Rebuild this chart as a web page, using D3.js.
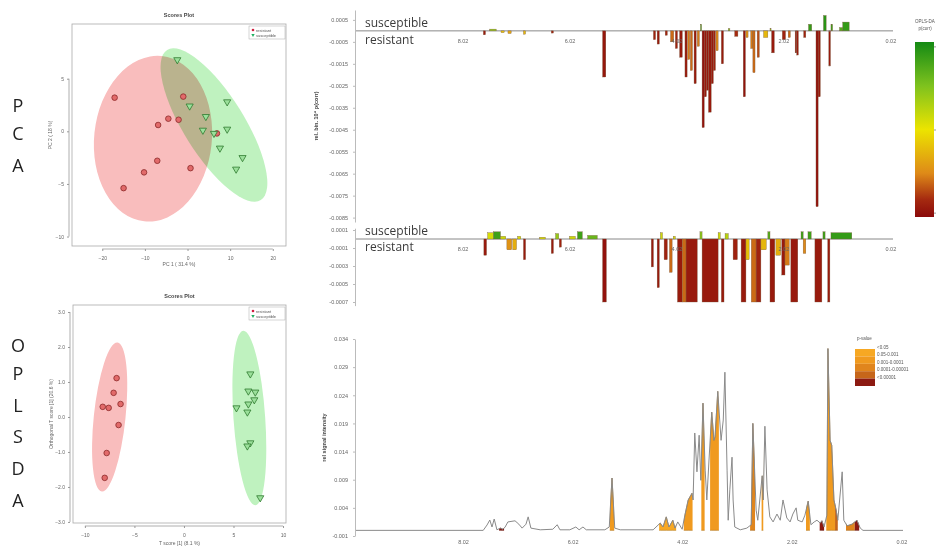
<!DOCTYPE html>
<html>
<head>
<meta charset="utf-8">
<script src="https://cdn.jsdelivr.net/npm/d3@7"></script>
<style>
  body { margin: 0; background: #fff; }
  text { font-family: "Liberation Sans", Arial, sans-serif; }
</style>
</head>
<body>
<div id="chart"></div>
<script>
// 1: DATA

// PCA scores
const pcaResX = [-17.1, -1.0, -4.5, -2.1, -6.9, 6.9, -7.1, -10.2, 0.7, -15.0];
const pcaResY = [3.2, 3.3, 1.2, 1.1, 0.6, -0.2, -2.8, -3.9, -3.5, -5.4];
const pcaSusX = [-2.4, 9.3, 0.5, 4.3, 3.6, 9.3, 6.2, 7.6, 12.9, 11.4];
const pcaSusY = [6.8, 2.8, 2.4, 1.4, 0.1, 0.2, -0.2, -1.6, -2.5, -3.6];
const pcaEllipses = [
    { cx: -8.1, cy: -0.7, rx: 13.8, ry: 7.9, angle: 6 },
    { cx: 6.2, cy: 0.6, rx: 7.1, ry: 8.4, angle: -32 }
];
const pcaXTicks = [-20, -10, 0, 10, 20];
const pcaYTicks = [5, 0, -5, -10];

// OPLS-DA scores
const oplsResX = [-6.8, -7.1, -8.2, -7.6, -6.4, -6.6, -7.8, -8.0];
const oplsResY = [1.11, 0.69, 0.29, 0.26, 0.37, -0.23, -1.03, -1.74];
const oplsSusX = [6.7, 6.5, 7.2, 7.1, 6.5, 5.3, 6.4, 6.7, 6.4, 7.7];
const oplsSusY = [1.23, 0.74, 0.71, 0.49, 0.37, 0.26, 0.14, -0.74, -0.83, -2.31];
const oplsEllipses = [
    { cx: -7.5, cy: 0, rx: 1.6, ry: 2.14, angle: 6 },
    { cx: 6.6, cy: -0.03, rx: 1.6, ry: 2.5, angle: -4 }
];
const oplsXTicks = [-10, -5, 0, 5, 10];
const oplsYTicks = [3, 2, 1, 0, -1, -2, -3];

// PCA loadings (bins: ppm from, ppm to, value, p(corr))
const topFrom = [7.64, 7.52, 7.31, 7.18, 6.89, 6.37, 5.41, 4.46, 4.39, 4.24, 4.14, 4.05, 3.97, 3.87, 3.82, 3.77, 3.70, 3.64, 3.58, 3.55, 3.51, 3.47, 3.43, 3.38, 3.34, 3.29, 3.19, 3.06, 2.94, 2.78, 2.73, 2.64, 2.60, 2.52, 2.40, 2.28, 2.25, 2.05, 1.94, 1.81, 1.78, 1.65, 1.56, 1.42, 1.38, 1.28, 1.18, 1.14, 0.98, 0.92];
const topTo   = [7.60, 7.40, 7.25, 7.12, 6.85, 6.33, 5.35, 4.42, 4.35, 4.20, 4.08, 4.01, 3.92, 3.83, 3.78, 3.73, 3.66, 3.60, 3.56, 3.51, 3.47, 3.43, 3.38, 3.34, 3.30, 3.25, 3.15, 3.03, 2.88, 2.74, 2.69, 2.60, 2.56, 2.48, 2.32, 2.26, 2.20, 1.99, 1.90, 1.78, 1.75, 1.61, 1.50, 1.38, 1.34, 1.23, 1.15, 1.11, 0.92, 0.80];
const topVal  = [-0.00018, 0.00008, -0.00008, -0.00012, -0.00015, -0.0001, -0.0021, -0.0004, -0.0006, -0.0002, -0.0005, -0.0008, -0.0012, -0.0021, -0.0013, -0.0018, -0.0024, -0.0007, 0.0003, -0.0044, -0.0030, -0.0027, -0.0037, -0.0024, -0.0018, -0.0009, -0.0015, 0.0001, -0.00025, -0.0030, -0.0003, -0.0008, -0.0019, -0.0012, -0.0003, 0.0001, -0.0010, -0.0004, -0.0003, -0.0010, -0.0011, -0.0003, 0.0003, -0.0080, -0.0030, 0.0007, -0.0016, 0.0003, 0.00015, 0.0004];
const topCorr = [-0.9, 0.4, -0.2, -0.35, -0.25, -0.85, -0.92, -0.85, -0.9, -0.85, -0.6, -0.85, -0.9, -0.9, -0.55, -0.6, -0.9, -0.55, 0.8, -0.95, -0.9, -0.9, -0.9, -0.9, -0.85, -0.5, -0.9, 0.5, -0.8, -0.95, -0.45, -0.55, -0.6, -0.7, -0.25, 0.4, -0.9, -0.85, -0.6, -0.9, -0.9, -0.85, 0.85, -0.95, -0.9, 0.9, -0.9, 0.8, 0.7, 0.85];
const topTicks = [0.0005, -0.0005, -0.0015, -0.0025, -0.0035, -0.0045, -0.0055, -0.0065, -0.0075, -0.0085];

// OPLS-DA loadings
const midFrom = [7.63, 7.56, 7.45, 7.32, 7.20, 7.09, 7.00, 6.89, 6.59, 6.37, 6.29, 6.22, 6.03, 5.88, 5.69, 5.41, 4.50, 4.39, 4.33, 4.26, 4.16, 4.09, 4.01, 3.92, 3.85, 3.59, 3.55, 3.25, 3.19, 3.12, 2.97, 2.82, 2.73, 2.63, 2.54, 2.45, 2.32, 2.28, 2.17, 2.06, 2.00, 1.89, 1.70, 1.66, 1.57, 1.44, 1.29, 1.20, 1.14];
const midTo   = [7.58, 7.45, 7.32, 7.22, 7.11, 7.02, 6.94, 6.85, 6.48, 6.33, 6.23, 6.18, 5.92, 5.79, 5.51, 5.34, 4.46, 4.35, 4.29, 4.20, 4.11, 4.05, 3.92, 3.85, 3.64, 3.55, 3.25, 3.21, 3.14, 3.06, 2.89, 2.73, 2.67, 2.54, 2.45, 2.35, 2.28, 2.19, 2.08, 2.00, 1.92, 1.76, 1.66, 1.61, 1.51, 1.31, 1.25, 1.16, 0.75];
const midVal  = [-0.00018, 0.00007, 0.00008, 0.00003, -0.00012, -0.00012, 0.00003, -0.00023, 0.00002, -0.00016, 0.00006, -0.00009, 0.00003, 0.00008, 0.00004, -0.0007, -0.00031, -0.00054, 0.00007, -0.00023, -0.00037, 0.00003, -0.0007, -0.0007, -0.0007, 0.00008, -0.0007, 0.00007, -0.0007, 0.00006, -0.00023, -0.0007, -0.00023, -0.0007, -0.0007, -0.00012, 0.00008, -0.0007, -0.00018, -0.0004, -0.00029, -0.0007, 0.00008, -0.00016, 0.00008, -0.0007, 0.00008, -0.0007, 0.00007];
const midCorr = [-0.9, 0.1, 0.8, 0.15, -0.45, -0.3, 0.1, -0.9, 0.1, -0.9, 0.4, -0.85, 0.15, 0.8, 0.6, -0.95, -0.9, -0.9, 0.15, -0.85, -0.6, 0.1, -0.9, -0.6, -0.9, 0.45, -0.9, 0.15, -0.9, 0.25, -0.85, -0.9, -0.2, -0.6, -0.85, -0.25, 0.7, -0.9, -0.3, -0.9, -0.55, -0.9, 0.8, -0.5, 0.8, -0.9, 0.8, -0.9, 0.85];
const midTicks = [0.0001, -0.0001, -0.0003, -0.0005, -0.0007];

// mean spectrum with p-value fills
const botPpm = [10.00, 7.66, 7.59, 7.54, 7.50, 7.46, 7.41, 7.35, 7.30, 7.26, 7.21, 7.08, 7.01, 6.95, 6.88, 6.84, 6.79, 6.62, 6.39, 6.31, 6.26, 6.08, 5.97, 5.91, 5.84, 5.78, 5.44, 5.36, 5.31, 5.26, 5.16, 4.56, 4.43, 4.38, 4.32, 4.27, 4.20, 4.16, 4.11, 4.03, 3.98, 3.92, 3.85, 3.83, 3.80, 3.76, 3.72, 3.69, 3.65, 3.61, 3.58, 3.54, 3.49, 3.45, 3.43, 3.38, 3.32, 3.28, 3.25, 3.21, 3.19, 3.16, 3.12, 3.10, 3.07, 2.97, 2.85, 2.77, 2.74, 2.68, 2.65, 2.57, 2.55, 2.52, 2.48, 2.43, 2.37, 2.30, 2.24, 2.19, 2.12, 2.06, 2.01, 1.95, 1.92, 1.84, 1.79, 1.73, 1.68, 1.62, 1.57, 1.51, 1.48, 1.44, 1.39, 1.37, 1.33, 1.30, 1.26, 1.22, 1.19, 1.11, 1.08, 1.02, 0.93, 0.84, 0.78, 0.73, 0.00];
const botInt = [0, 0, 0.00096, 0.00184, 0.0006, 0.00202, 0.0001, 0.0004, 0.0002, 0.0006, 0.0015, 0.0017, 0.0011, 0.0004, 0.0011, 0.0024, 0.0004, 0.0001, 0.0002, 0.001, 0.0001, 0.0001, 0.0006, 0.0001, 0.0006, 0.0001, 0.0001, 0.0006, 0.0093, 0.0004, 0.0001, 0.0001, 0.0013, 0.0006, 0.0024, 0.0006, 0.0018, 0.0004, 0.0015, 0.0002, 0.0027, 0.0054, 0.0066, 0.0054, 0.0173, 0.0104, 0.0169, 0.0089, 0.0226, 0.0107, 0.0054, 0.0125, 0.021, 0.016, 0.0166, 0.0247, 0.016, 0.0196, 0.0281, 0.0107, 0.0018, 0.0072, 0.013, 0.0054, 0.0006, 0.0001, 0.0004, 0.001, 0.019, 0.0036, 0.0018, 0.0097, 0.0054, 0.0185, 0.0072, 0.0024, 0.0015, 0.0029, 0.0018, 0.0054, 0.0022, 0.0015, 0.0029, 0.004, 0.0018, 0.0015, 0.0027, 0.0052, 0.001, 0.0015, 0.0018, 0.0013, 0.0017, 0.0006, 0.0027, 0.0323, 0.016, 0.0151, 0.0054, 0.0036, 0.0018, 0.0104, 0.0018, 0.0008, 0.0011, 0.0018, 0.0004, 0, 0];
const fillHi    = [7.37, 5.35, 4.45, 4.00, 3.68, 3.52, 2.79, 2.58, 1.77, 1.52, 1.40, 1.24, 1.04, 0.88];
const fillLo    = [7.28, 5.27, 4.14, 3.84, 3.62, 3.36, 2.70, 2.55, 1.70, 1.44, 1.24, 1.19, 0.88, 0.80];
const fillClass = [4, 1, 0, 1, 1, 1, 2, 1, 1, 4, 1, 3, 2, 4];
const botTicks = [0.034, 0.029, 0.024, 0.019, 0.014, 0.009, 0.004, -0.001];

const ppmTicks = [8.02, 6.02, 4.02, 2.02, 0.02];
const pLabels = ["<0.05", "0.05-0.001", "0.001-0.0001", "0.0001-0.00001", "<0.00001"];
const pColors = ["#f7a823", "#f09a1f", "#e0851d", "#c6661a", "#8c1a12"];

// 2: SVG
const svg = d3.select("#chart").append("svg")
    .attr("width", 940)
    .attr("height", 548);
svg.append("rect").attr("width", 940).attr("height", 548).attr("fill", "#fff");

const tickFont = 5.5;
const greyText = "#666";

// side letters
function sideLetters(letters, ys) {
    svg.selectAll(null).data(letters).join("text")
        .attr("x", 18)
        .attr("y", (d, i) => ys[i])
        .attr("text-anchor", "middle")
        .style("font-family", "'Open Sans', sans-serif")
        .style("font-size", "18px")
        .attr("fill", "#222")
        .text(d => d);
}
sideLetters(["P", "C", "A"], [112, 140, 172]);
sideLetters(["O", "P", "L", "S", "D", "A"], [352, 380, 412, 443, 475, 507]);

// 3: SCORES PLOTS
function scoresPlot(cfg) {
    const g = svg.append("g");
    const x = d3.scaleLinear().domain(cfg.xDomain).range([cfg.left, cfg.right]);
    const y = d3.scaleLinear().domain(cfg.yDomain).range([cfg.bottom, cfg.top]);

    const ell = g.append("g").style("isolation", "isolate");
    ell.selectAll("ellipse").data(cfg.ellipses).join("ellipse")
        .attr("cx", d => x(d.cx))
        .attr("cy", d => y(d.cy))
        .attr("rx", d => x(d.cx + d.rx) - x(d.cx))
        .attr("ry", d => y(d.cy) - y(d.cy + d.ry))
        .attr("transform", d => `rotate(${d.angle},${x(d.cx)},${y(d.cy)})`)
        .attr("fill", (d, i) => i === 0 ? "#f9bdbd" : "#bff2bf")
        .style("mix-blend-mode", "multiply");

    g.append("rect")
        .attr("x", cfg.left).attr("y", cfg.top)
        .attr("width", cfg.right - cfg.left)
        .attr("height", cfg.bottom - cfg.top)
        .attr("fill", "none").attr("stroke", "#aaa").attr("stroke-width", 0.8);

    // R style axes, line from first to last tick
    const xa = g.append("g")
        .attr("transform", `translate(0,${cfg.bottom + 3})`)
        .call(d3.axisBottom(x).tickValues(cfg.xTicks).tickSize(2).tickPadding(5).tickSizeOuter(0));
    xa.select(".domain").remove();
    xa.append("line")
        .attr("x1", x(d3.min(cfg.xTicks))).attr("x2", x(d3.max(cfg.xTicks)))
        .attr("stroke", "#999").attr("stroke-width", 0.8);

    const ya = g.append("g")
        .attr("transform", `translate(${cfg.left - 3},0)`)
        .call(d3.axisLeft(y).tickValues(cfg.yTicks).tickSize(2).tickPadding(3).tickSizeOuter(0));
    ya.select(".domain").remove();
    ya.append("line")
        .attr("y1", y(d3.min(cfg.yTicks))).attr("y2", y(d3.max(cfg.yTicks)))
        .attr("stroke", "#999").attr("stroke-width", 0.8);

    g.selectAll(".tick line").attr("stroke", "#999");
    g.selectAll(".tick text").style("font-size", "5px").attr("fill", greyText);

    // points
    g.selectAll(".res").data(cfg.resX).join("circle")
        .attr("class", "res")
        .attr("cx", d => x(d))
        .attr("cy", (d, i) => y(cfg.resY[i]))
        .attr("r", 2.8)
        .attr("fill", "#e26a6a")
        .attr("stroke", "#8a2a2a").attr("stroke-width", 0.8);
    const tri = d3.symbol().type(d3.symbolTriangle).size(22);
    g.selectAll(".sus").data(cfg.susX).join("path")
        .attr("class", "sus")
        .attr("d", tri)
        .attr("transform", (d, i) => `translate(${x(d)},${y(cfg.susY[i])}) rotate(180)`)
        .attr("fill", "#9be09b")
        .attr("stroke", "#2e7a2e").attr("stroke-width", 0.8);

    // title
    g.append("text")
        .attr("x", (cfg.left + cfg.right) / 2)
        .attr("y", cfg.top - 7)
        .attr("text-anchor", "middle")
        .style("font-size", "5.5px").style("font-weight", "bold")
        .attr("fill", "#444")
        .text("Scores Plot");

    // legend
    const lg = g.append("g").attr("transform", `translate(${cfg.right - 37},${cfg.top + 2})`);
    lg.append("rect").attr("width", 36).attr("height", 13)
        .attr("fill", "#fff").attr("stroke", "#aaa").attr("stroke-width", 0.5);
    lg.append("circle").attr("cx", 4).attr("cy", 4).attr("r", 1.3).attr("fill", "#d02040");
    lg.append("path").attr("d", d3.symbol().type(d3.symbolTriangle).size(5))
        .attr("transform", "translate(4,9) rotate(180)").attr("fill", "#20b060");
    lg.append("text").attr("x", 7).attr("y", 5.5).style("font-size", "4px").attr("fill", "#555").text("resistant");
    lg.append("text").attr("x", 7).attr("y", 10.5).style("font-size", "4px").attr("fill", "#555").text("susceptible");

    // axis labels
    g.append("text")
        .attr("x", (cfg.left + cfg.right) / 2)
        .attr("y", cfg.xLabelY)
        .attr("text-anchor", "middle")
        .style("font-size", "5px").attr("fill", greyText)
        .text(cfg.xLabel);
    g.append("text")
        .attr("transform", `translate(${cfg.left - 20},${(cfg.top + cfg.bottom) / 2}) rotate(-90)`)
        .attr("text-anchor", "middle")
        .style("font-size", "5px").attr("fill", greyText)
        .text(cfg.yLabel);
}

scoresPlot({
    left: 72, right: 286, top: 24, bottom: 246,
    xDomain: [-27.1, 23.1], yDomain: [-10.9, 10.2],
    xTicks: pcaXTicks, yTicks: pcaYTicks,
    resX: pcaResX, resY: pcaResY, susX: pcaSusX, susY: pcaSusY,
    ellipses: pcaEllipses,
    xLabel: "PC 1 ( 31.4 %)", xLabelY: 266,
    yLabel: "PC 2 ( 18 %)"
});

scoresPlot({
    left: 73, right: 286, top: 305, bottom: 523,
    xDomain: [-11.2, 10.3], yDomain: [-3.03, 3.2],
    xTicks: oplsXTicks, yTicks: oplsYTicks,
    resX: oplsResX, resY: oplsResY, susX: oplsSusX, susY: oplsSusY,
    ellipses: oplsEllipses,
    xLabel: "T score [1]  (8.1 %)", xLabelY: 545,
    yLabel: "Orthogonal T score [1]  (20.6 %)"
});

// 4: LOADING PLOTS
const corrColor = d3.scaleLinear()
    .domain([-1, -0.8, -0.5, 0, 0.5, 1])
    .range(["#8b0a0a", "#a52a10", "#de8a18", "#ece400", "#7ec21e", "#148a14"]);

const xTop = d3.scaleLinear().domain([10.04, -0.02]).range([355, 893]);
const yTop = d3.scaleLinear().domain([-0.0087, 0.00095]).range([222, 10]);
const yMid = d3.scaleLinear().domain([-0.00074, 0.00012]).range([305.6, 228.2]);

function loadingPanel(y, from, to, val, corr, ticks, labelYs) {
    const g = svg.append("g");
    // baseline
    g.append("line")
        .attr("x1", xTop(10.04)).attr("x2", xTop(-0.02))
        .attr("y1", y(0)).attr("y2", y(0))
        .attr("stroke", "#888").attr("stroke-width", 1);

    g.selectAll(".bin").data(val).join("rect")
        .attr("class", "bin")
        .attr("x", (d, i) => xTop(from[i]))
        .attr("width", (d, i) => Math.max(0.8, xTop(to[i]) - xTop(from[i])))
        .attr("y", d => Math.min(y(d), y(0)))
        .attr("height", d => Math.abs(y(d) - y(0)))
        .attr("fill", (d, i) => corrColor(corr[i]))
        .attr("stroke", "#7a5a40").attr("stroke-width", 0.35);

    const ya = g.append("g")
        .attr("transform", `translate(${xTop(10.04)},0)`)
        .call(d3.axisLeft(y).tickValues(ticks).tickSize(2).tickPadding(5).tickSizeOuter(0)
            .tickFormat(d => d3.format(".4f")(d).replace("−", "-")));
    ya.select(".domain").attr("stroke", "#bbb");
    ya.selectAll(".tick line").attr("stroke", "#bbb");
    ya.selectAll(".tick text").style("font-size", tickFont + "px").attr("fill", greyText);

    // ppm labels under the baseline
    g.selectAll(".ppm").data(ppmTicks).join("text")
        .attr("class", "ppm")
        .attr("x", d => xTop(d))
        .attr("y", y(0) + 12)
        .attr("text-anchor", "middle")
        .style("font-size", tickFont + "px").attr("fill", greyText)
        .text(d => d.toFixed(2));

    g.selectAll(".grp").data(["susceptible", "resistant"]).join("text")
        .attr("class", "grp")
        .attr("x", 365)
        .attr("y", (d, i) => labelYs[i])
        .style("font-family", "'Open Sans', sans-serif")
        .style("font-size", "12px")
        .attr("fill", "#3a3a3a")
        .text(d => d);
}

loadingPanel(yTop, topFrom, topTo, topVal, topCorr, topTicks, [27, 44]);
loadingPanel(yMid, midFrom, midTo, midVal, midCorr, midTicks, [235, 251]);

svg.append("text")
    .attr("transform", `translate(318,116) rotate(-90)`)
    .attr("text-anchor", "middle")
    .style("font-size", "5.5px").style("font-weight", "bold").attr("fill", "#444")
    .text("rel. bin. 10\u2074 p(corr)");

// colour bar
const defs = svg.append("defs");
const grad = defs.append("linearGradient").attr("id", "corrGrad")
    .attr("x1", 0).attr("y1", 0).attr("x2", 0).attr("y2", 1);
[1, 0.5, 0, -0.5, -0.8, -1].forEach(c => {
    grad.append("stop")
        .attr("offset", (1 - c) / 2)
        .attr("stop-color", corrColor(c));
});
const cbScale = d3.scaleLinear().domain([1, -1]).range([42, 217]);
svg.append("rect")
    .attr("x", 915).attr("y", cbScale(1))
    .attr("width", 19).attr("height", cbScale(-1) - cbScale(1))
    .attr("fill", "url(#corrGrad)");
svg.append("g")
    .attr("transform", "translate(934,0)")
    .call(d3.axisRight(cbScale).tickValues([0.95, 0, -0.95]).tickSize(2).tickFormat(""))
    .call(a => a.select(".domain").remove())
    .selectAll("line").attr("stroke", "#999");
svg.selectAll(".cbt").data(["OPLS-DA", "p(corr)"]).join("text")
    .attr("class", "cbt")
    .attr("x", 925).attr("y", (d, i) => 23 + i * 7)
    .attr("text-anchor", "middle")
    .style("font-size", "4.5px").attr("fill", "#555")
    .text(d => d);

// 5: MEAN SPECTRUM WITH P-VALUES
const xBot = d3.scaleLinear().domain([10, 0]).range([355, 903]);
const yBot = d3.scaleLinear().domain([-0.001, 0.034]).range([536, 339]);
const spec = d3.zip(botPpm, botInt);

const area = d3.area()
    .x(d => xBot(d[0]))
    .y0(yBot(0))
    .y1(d => yBot(d[1]));
const line = d3.line()
    .x(d => xBot(d[0]))
    .y(d => yBot(d[1]));

const bot = svg.append("g");
fillHi.forEach((hi, i) => {
    defs.append("clipPath").attr("id", "clip" + i)
        .append("rect")
        .attr("x", xBot(hi)).attr("width", xBot(fillLo[i]) - xBot(hi))
        .attr("y", yBot(0.034)).attr("height", yBot(0) - yBot(0.034) + 1);
    bot.append("path")
        .datum(spec)
        .attr("clip-path", `url(#clip${i})`)
        .attr("d", area)
        .attr("fill", pColors[fillClass[i]])
        .attr("stroke", d3.color(pColors[fillClass[i]]).darker(0.8))
        .attr("stroke-width", 0.6);
});
bot.append("path")
    .datum(spec)
    .attr("d", line)
    .attr("fill", "none")
    .attr("stroke", "#8a8a8a")
    .attr("stroke-width", 1);

const by = bot.append("g")
    .attr("transform", `translate(${xBot(10)},0)`)
    .call(d3.axisLeft(yBot).tickValues(botTicks).tickSize(2).tickPadding(5).tickSizeOuter(0)
        .tickFormat(d => d3.format(".3f")(d).replace("−", "-")));
by.select(".domain").attr("stroke", "#bbb");
by.selectAll(".tick line").attr("stroke", "#bbb");
by.selectAll(".tick text").style("font-size", tickFont + "px").attr("fill", greyText);

bot.selectAll(".bppm").data(ppmTicks).join("text")
    .attr("class", "bppm")
    .attr("x", d => xBot(d))
    .attr("y", yBot(-0.001) + 8)
    .attr("text-anchor", "middle")
    .style("font-size", tickFont + "px").attr("fill", greyText)
    .text(d => d.toFixed(2));

svg.append("text")
    .attr("transform", `translate(326,${yBot(0.0165)}) rotate(-90)`)
    .attr("text-anchor", "middle")
    .style("font-size", "5.5px").style("font-weight", "bold").attr("fill", "#444")
    .text("rel signal intensity");

// p-value legend
const pl = svg.append("g").attr("transform", "translate(855,339)");
pl.append("text").attr("x", 2).attr("y", 1).style("font-size", "4.5px").attr("fill", "#555").text("p-value");
pl.selectAll("rect").data(pColors).join("rect")
    .attr("x", 0).attr("y", (d, i) => 10 + i * 7.4)
    .attr("width", 20).attr("height", 7.4)
    .attr("fill", d => d);
pl.selectAll(".pl").data(pLabels).join("text")
    .attr("class", "pl")
    .attr("x", 22).attr("y", (d, i) => 10 + i * 7.4)
    .style("font-size", "4.5px").attr("fill", "#555")
    .text(d => d);
</script>
</body>
</html>
